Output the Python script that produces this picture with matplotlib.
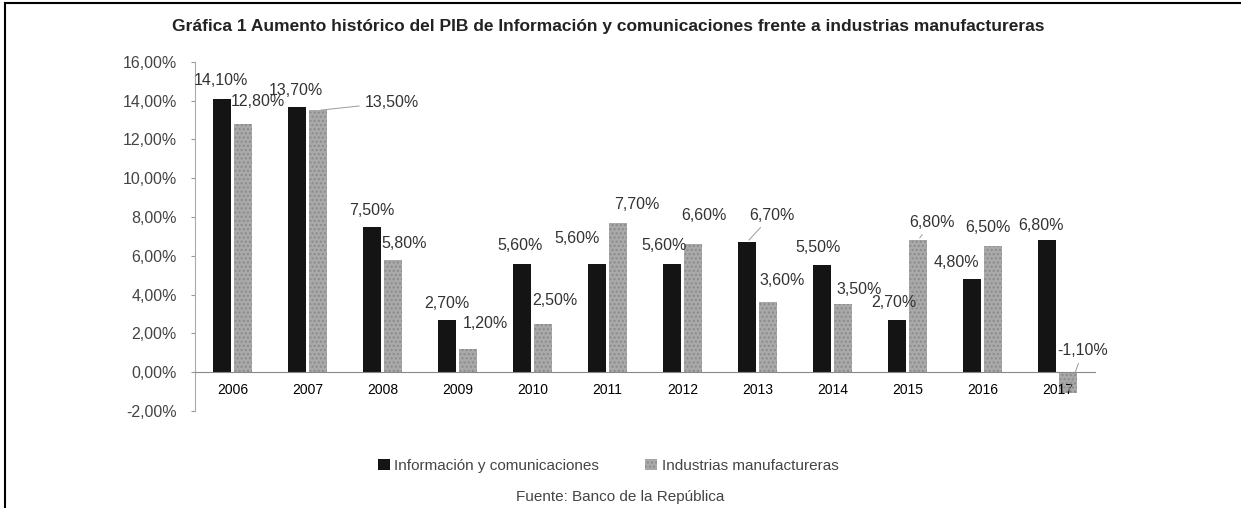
import matplotlib
matplotlib.use("Agg")
import matplotlib.pyplot as plt
from matplotlib.lines import Line2D
import numpy as np

plt.rcParams['font.family'] = ['Liberation Sans', 'DejaVu Sans']

# Data
years = ['2006', '2007', '2008', '2009', '2010', '2011',
         '2012', '2013', '2014', '2015', '2016', '2017']
info = [14.1, 13.7, 7.5, 2.7, 5.6, 5.6, 5.6, 6.7, 5.5, 2.7, 4.8, 6.8]
manuf = [12.8, 13.5, 5.8, 1.2, 2.5, 7.7, 6.6, 3.6, 3.5, 6.8, 6.5, -1.1]
yticks = [-2, 0, 2, 4, 6, 8, 10, 12, 14, 16]

# label placement (pixel offsets from the bar end), and which ones get a leader line
info_off = [(-1, 18), (-1, 16), (0, 16), (0, 16), (-2, 18), (-20, 25),
            (-8, 18), (25, 27), (-4, 18), (-3, 17), (-16, 17), (-6, 15)]
manuf_off = [(15, 22), (74, 8), (11, 16), (17, 25), (12, 23), (19, 18),
             (11, 29), (14, 22), (16, 15), (14, 18), (-5, 19), (15, 43)]
info_lead = {7}
manuf_lead = {1, 9, 11}


def pct(v):
    return f"{v:.2f}%".replace('.', ',')


fig = plt.figure(figsize=(12.41, 5.08), dpi=100)
ax = fig.add_axes([0.1571, 0.1913, 0.7252, 0.6867])

x = np.arange(len(years))
w = 0.25
b1 = ax.bar(x - 0.14, info, w, color='#141414', label='Información y comunicaciones')
b2 = ax.bar(x + 0.14, manuf, w, color='#a9a9a9', hatch='....', edgecolor='#8a8a8a',
            linewidth=0, label='Industrias manufactureras')

for bars, vals, offs, lead in [(b1, info, info_off, info_lead),
                               (b2, manuf, manuf_off, manuf_lead)]:
    for i, (bar, v) in enumerate(zip(bars, vals)):
        cx = bar.get_x() + bar.get_width() / 2
        arrow = dict(arrowstyle='-', color='#9a9a9a', lw=0.7) if i in lead else None
        ax.annotate(pct(v), xy=(cx, v), xytext=offs[i], textcoords='offset pixels',
                    ha='center', va='center', fontsize=11.5, color='#333333',
                    arrowprops=arrow)

ax.set_xlim(-0.5, len(years) - 0.5)
ax.set_ylim(-2, 16)
ax.set_yticks(yticks)
ax.set_yticklabels([pct(t) for t in yticks], fontsize=11.5, color='#444444')
ax.set_xticks(x)
ax.set_xticklabels(years, fontsize=11.5, color='#444444')
ax.tick_params(axis='x', length=0, pad=8)
ax.tick_params(axis='y', length=3, color='#999999', pad=10)

ax.spines['top'].set_visible(False)
ax.spines['right'].set_visible(False)
ax.spines['left'].set_color('#aaaaaa')
ax.spines['left'].set_linestyle((0, (1, 1)))
ax.spines['bottom'].set_position(('data', 0))
ax.spines['bottom'].set_color('#888888')

fig.text(0.49, 0.947, 'Gráfica 1 Aumento histórico del PIB de Información y comunicaciones '
         'frente a industrias manufactureras', ha='center', va='center',
         fontsize=12.5, fontweight='bold', color='#222222')

fig.legend(handles=[b1, b2], loc='center', bbox_to_anchor=(0.49, 0.083), ncol=2,
           frameon=False, fontsize=11, labelcolor='#444444', handlelength=0.8,
           handleheight=0.8, columnspacing=3.0, handletextpad=0.3)

fig.text(0.5, 0.022, 'Fuente: Banco de la República', ha='center', va='center',
         fontsize=11, color='#444444')

# scanned page frame
fig.add_artist(Line2D([0.004, 0.004], [0, 0.994], transform=fig.transFigure,
                      color='black', lw=1.5))
fig.add_artist(Line2D([0.004, 1.0], [0.994, 0.994], transform=fig.transFigure,
                      color='black', lw=1.5))

fig.savefig('out.png', dpi=100)
